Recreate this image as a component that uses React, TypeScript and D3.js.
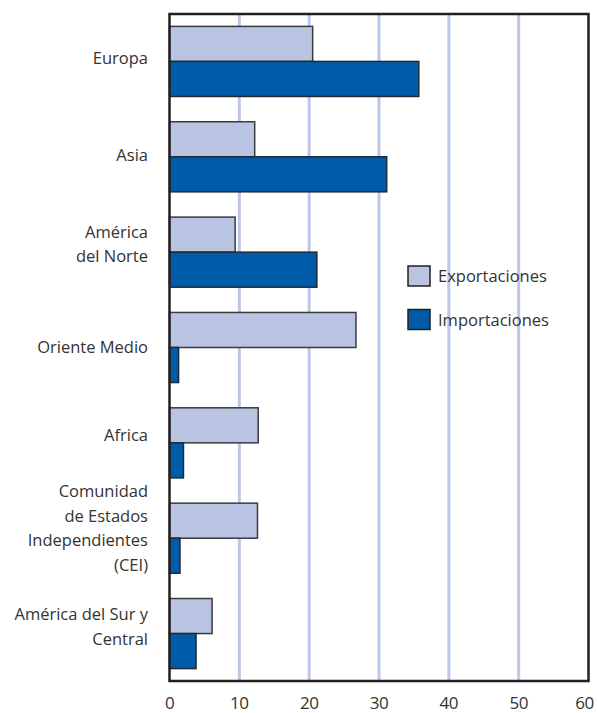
import * as d3 from "d3";
import { useEffect, useRef } from "react";

const REGIONS = [
  ["Europa"],
  ["Asia"],
  ["América", "del Norte"],
  ["Oriente Medio"],
  ["Africa"],
  ["Comunidad", "de Estados", "Independientes", "(CEI)"],
  ["América del Sur y", "Central"],
];
const EXPORTS = [20.5, 12.2, 9.4, 26.7, 12.7, 12.6, 6.1];
const IMPORTS = [35.7, 31.1, 21.1, 1.3, 2.0, 1.5, 3.8];
const TICKS = [0, 10, 20, 30, 40, 50, 60];
const SERIES = ["Exportaciones", "Importaciones"];

const LIGHT = "#b9c4e3";
const DARK = "#005ca8";
const GRID = "#bcc6e8";
const INK = "#231f20";
const FONT = "'Open Sans', 'Liberation Sans', sans-serif";

const W = 597;
const H = 713;

export default function App() {
  const svgRef = useRef<SVGSVGElement>(null);

  useEffect(() => {
    document.body.style.margin = "0";
    document.body.style.overflow = "hidden";
    const svg = d3.select(svgRef.current);
    svg.selectAll("*").remove();

    const left = 169.5, right = 588.5, top = 14, bottom = 681;

    const x = d3.scaleLinear().domain([0, 60]).range([left, right]);
    const y = d3.scaleBand<number>()
      .domain(d3.range(REGIONS.length))
      .range([top, bottom])
      .paddingInner(0.265)
      .paddingOuter(0.13);
    const half = y.bandwidth() / 2;

    // gridlines
    svg.append("g")
      .selectAll("line")
      .data(TICKS.slice(1, -1))
      .join("line")
      .attr("x1", (d) => x(d))
      .attr("x2", (d) => x(d))
      .attr("y1", top)
      .attr("y2", bottom)
      .attr("stroke", GRID)
      .attr("stroke-width", 3);

    // bars
    const bars = svg.append("g");
    bars.selectAll(".exp")
      .data(EXPORTS)
      .join("rect")
      .attr("x", x(0))
      .attr("y", (_, i) => y(i)!)
      .attr("width", (d) => x(d) - x(0))
      .attr("height", half)
      .attr("fill", LIGHT)
      .attr("stroke", "#3a3a3c")
      .attr("stroke-width", 1.5);
    bars.selectAll(".imp")
      .data(IMPORTS)
      .join("rect")
      .attr("x", x(0))
      .attr("y", (_, i) => y(i)! + half)
      .attr("width", (d) => x(d) - x(0))
      .attr("height", half)
      .attr("fill", DARK)
      .attr("stroke", "#1f2a36")
      .attr("stroke-width", 1.5);

    // frame
    svg.append("rect")
      .attr("x", left)
      .attr("y", top)
      .attr("width", right - left)
      .attr("height", bottom - top)
      .attr("fill", "none")
      .attr("stroke", INK)
      .attr("stroke-width", 2.5);

    // x tick labels (last one pulled in so it stays on the page)
    svg.append("g")
      .selectAll("text")
      .data(TICKS)
      .join("text")
      .attr("x", (d, i) => x(d) - (i === TICKS.length - 1 ? 4 : 0))
      .attr("y", bottom + 28)
      .attr("text-anchor", "middle")
      .style("font-family", FONT)
      .style("font-size", "17px")
      .style("letter-spacing", "-0.5px")
      .style("fill", "#333")
      .text((d) => d);

    // category labels
    const lh = 24.5;
    const dy = [-2, -1, -7, 0, -7, -9, -6];
    const cat = svg.append("g")
      .selectAll("text")
      .data(REGIONS)
      .join("text")
      .attr("text-anchor", "end")
      .style("font-family", FONT)
      .style("font-size", "16.5px")
      .style("fill", "#333");
    cat.each(function (lines, i) {
      const cy = y(i)! + half + dy[i];
      const y0 = cy - ((lines.length - 1) * lh) / 2 + 5;
      d3.select(this)
        .selectAll("tspan")
        .data(lines)
        .join("tspan")
        .attr("x", 148)
        .attr("y", (_, j) => y0 + j * lh)
        .text((t) => t);
    });

    // legend
    const lg = svg.append("g").attr("transform", "translate(408,266)");
    const item = lg.selectAll("g")
      .data(SERIES)
      .join("g")
      .attr("transform", (_, i) => `translate(0,${i * 43.5})`);
    item.append("rect")
      .attr("width", 22)
      .attr("height", 20)
      .attr("fill", (_, i) => (i === 0 ? LIGHT : DARK))
      .attr("stroke", INK)
      .attr("stroke-width", 1.5);
    item.append("text")
      .attr("x", 30)
      .attr("y", 16)
      .style("font-family", FONT)
      .style("font-size", "16.5px")
      .style("fill", "#333")
      .text((d) => d);
  }, []);

  return (
    <svg
      ref={svgRef}
      width={W}
      height={H}
      style={{ display: "block", position: "absolute", left: 0, top: 0 }}
    />
  );
}
